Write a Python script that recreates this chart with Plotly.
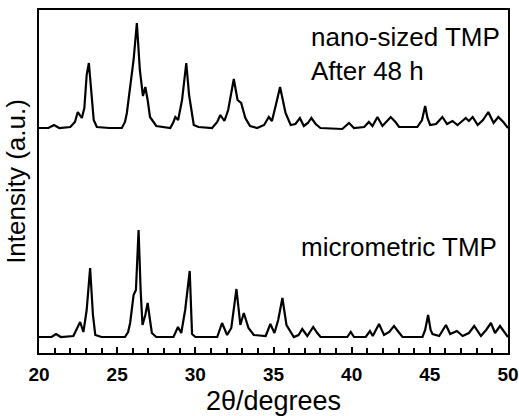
import plotly.graph_objects as go

# Upper pattern: nano-sized TMP after 48 h (2theta in degrees, intensity in arbitrary units)
nano_2theta = [20.0, 20.6, 20.96, 21.3, 22.0, 22.3, 22.48, 22.74, 22.9, 23.05, 23.19, 23.35, 23.5, 23.7,
               24.5, 25.3, 25.5, 25.62, 25.8, 26.05, 26.26, 26.45, 26.65, 26.8, 26.95, 27.1, 27.5,
               28.4, 28.6, 28.72, 28.9, 29.15, 29.42, 29.6, 29.9, 30.2, 31.07, 31.4, 31.6, 31.86,
               32.1, 32.46, 32.7, 32.93, 33.2, 33.5, 33.95, 34.4, 34.7, 34.9, 35.15, 35.42, 35.77,
               36.1, 36.4, 36.69, 36.94, 37.2, 37.42, 37.7, 38.0, 39.4, 39.83, 40.15, 40.8, 41.1,
               41.33, 41.65, 41.97, 42.2, 42.5, 42.8, 43.03, 44.2, 44.5, 44.7, 44.85, 45.02, 45.4,
               45.8, 46.1, 46.45, 46.77, 47.0, 47.3, 47.5, 47.74, 48.06, 48.4, 48.74, 49.08, 49.38,
               49.7, 50.0]
nano_intensity = [225, 225, 228, 225, 226, 231, 241, 235, 245, 278, 290, 263, 233, 226,
                  225, 225, 231, 240, 263, 293, 330, 283, 257, 266, 253, 236, 227,
                  225, 231, 236, 233, 253, 290, 258, 228, 226, 225, 231, 238, 232,
                  243, 274, 253, 250, 235, 227, 225, 228, 236, 232, 248, 266, 240,
                  228, 229, 235, 227, 230, 235, 229, 225, 224, 230, 225, 226, 231,
                  227, 236, 227, 231, 236, 231, 226, 226, 233, 247, 235, 228, 229,
                  236, 229, 232, 228, 231, 235, 232, 236, 228, 233, 241, 230, 236,
                  231, 225]

# Lower pattern: micrometric TMP
micro_2theta = [20.0, 20.8, 21.09, 21.4, 22.2, 22.45, 22.63, 22.84, 23.05, 23.27, 23.45, 23.6, 24.0,
                25.5, 25.7, 25.83, 25.95, 26.05, 26.2, 26.37, 26.5, 26.62, 26.8, 26.95, 27.1, 27.22,
                27.5, 28.6, 28.89, 29.1, 29.35, 29.64, 29.79, 30.0, 31.4, 31.71, 32.03, 32.3, 32.63,
                32.88, 33.1, 33.4, 33.74, 34.5, 34.8, 35.06, 35.3, 35.57, 35.83, 36.09, 36.3, 36.6,
                36.84, 37.16, 37.54, 37.8, 38.01, 39.72, 39.94, 40.15, 40.9, 41.17, 41.35, 41.75,
                42.07, 42.4, 42.71, 43.0, 43.25, 44.53, 44.7, 44.89, 45.05, 45.17, 45.6, 46.03, 46.3,
                46.73, 47.1, 47.5, 47.84, 48.27, 48.6, 48.91, 49.17, 49.49, 49.8, 50.0]
micro_intensity = [16, 16, 19, 16, 17, 25, 31, 21, 43, 85, 38, 18, 16,
                   16, 21, 30, 48, 58, 63, 123, 63, 28, 38, 50, 33, 20,
                   16, 16, 26, 20, 43, 82, 19, 16, 16, 30, 18, 25, 64,
                   28, 40, 25, 18, 17, 29, 20, 33, 55, 28, 21, 16, 18,
                   24, 17, 26, 20, 16, 16, 21, 16, 16, 22, 17, 29,
                   18, 21, 27, 21, 16, 16, 23, 38, 23, 19, 17, 28, 19,
                   22, 17, 20, 27, 17, 23, 30, 20, 27, 21, 16]

x_ticks = [20, 25, 30, 35, 40, 45, 50]

fig = go.Figure()
fig.add_trace(go.Scatter(x=nano_2theta, y=nano_intensity, mode="lines",
                         line=dict(color="black", width=2.2), showlegend=False))
fig.add_trace(go.Scatter(x=micro_2theta, y=micro_intensity, mode="lines",
                         line=dict(color="black", width=2.2), showlegend=False))

font = "Liberation Sans, Arial, sans-serif"
fig.update_layout(
    width=519, height=416,
    margin=dict(l=39, r=11, t=10, b=63),
    paper_bgcolor="white", plot_bgcolor="white",
    font=dict(family=font, color="black"),
    xaxis=dict(range=[20, 50], tickvals=x_ticks, ticktext=[str(v) for v in x_ticks],
               ticks="inside", ticklen=6, tickwidth=1.5, tickcolor="black",
               minor=dict(dtick=1, ticks="inside", ticklen=5, tickwidth=1.5, tickcolor="black"),
               showline=True, linecolor="black", linewidth=2, mirror=True,
               showgrid=False, zeroline=False, automargin=False, ticklabelstandoff=3,
               tickfont=dict(size=19, family=font, weight="bold"),
               title=dict(text="2θ/degrees", font=dict(size=27), standoff=20)),
    yaxis=dict(range=[0, 343], showticklabels=False, ticks="",
               showline=True, linecolor="black", linewidth=2, mirror=True,
               showgrid=False, zeroline=False, automargin=False,
               title=dict(text="Intensity (a.u.)", font=dict(size=26), standoff=4)),
    annotations=[
        dict(x=37.3, y=316, xref="x", yref="y", text="nano-sized TMP", showarrow=False,
             xanchor="left", yanchor="middle", font=dict(size=26)),
        dict(x=37.3, y=282, xref="x", yref="y", text="After 48 h", showarrow=False,
             xanchor="left", yanchor="middle", font=dict(size=26)),
        dict(x=36.6, y=106, xref="x", yref="y", text="micrometric TMP", showarrow=False,
             xanchor="left", yanchor="middle", font=dict(size=26)),
    ],
)

fig.write_html("out.html", config={"displayModeBar": False},
               post_script="document.body.style.margin='0';")
